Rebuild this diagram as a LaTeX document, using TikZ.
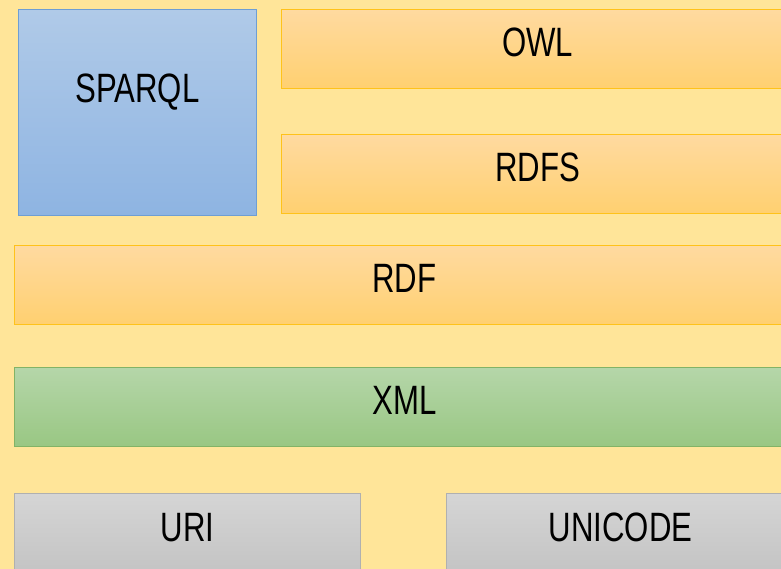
\documentclass[tikz,border=0pt]{standalone}
\usepackage{fontspec}
\setmainfont{Liberation Sans}[FakeStretch=0.76]
\definecolor{bgyellow}{HTML}{FFE599}
\definecolor{orgtop}{HTML}{FFDAA0}
\definecolor{orgbot}{HTML}{FFD070}
\definecolor{orgline}{HTML}{FFC21A}
\definecolor{blutop}{HTML}{B0CAE8}
\definecolor{blubot}{HTML}{8EB4E2}
\definecolor{bluline}{HTML}{6E9ED4}
\definecolor{grntop}{HTML}{B5D6A9}
\definecolor{grnbot}{HTML}{99C783}
\definecolor{grnline}{HTML}{82B366}
\definecolor{grytop}{HTML}{D5D5D5}
\definecolor{grybot}{HTML}{C3C3C3}
\definecolor{gryline}{HTML}{B0B0B0}
\tikzset{
  layer/.style={rectangle, anchor=north west, inner sep=0pt, line width=1pt,
    font=\fontsize{41}{41}\selectfont, text depth=14pt},
  orangelayer/.style={layer, draw=orgline, top color=orgtop, bottom color=orgbot},
  bluelayer/.style={layer, draw=bluline, top color=blutop, bottom color=blubot},
  greenlayer/.style={layer, draw=grnline, top color=grntop, bottom color=grnbot},
  graylayer/.style={layer, draw=gryline, top color=grytop, bottom color=grybot},
}
\begin{document}
\begin{tikzpicture}[x=1pt,y=1pt]
\useasboundingbox (0,0) rectangle (781,569);
\fill[bgyellow] (0,0) rectangle (781,569);
\clip (0,0) rectangle (781,569);
% query layer
\node[bluelayer, minimum width=238pt, minimum height=206pt, text depth=48pt] (sparql) at (18,560) {SPARQL};
% ontology and schema layers
\node[orangelayer, minimum width=512pt, minimum height=79pt] (owl) at (281,560) {OWL};
\node[orangelayer, minimum width=512pt, minimum height=79pt] (rdfs) at (281,435) {RDFS};
% data model
\node[orangelayer, minimum width=780pt, minimum height=79pt] (rdf) at (14,324) {RDF};
% syntax
\node[greenlayer, minimum width=780pt, minimum height=79pt] (xml) at (14,202) {XML};
% identifiers and character set
\node[graylayer, minimum width=346pt, minimum height=82pt] (uri) at (14,76) {URI};
\node[graylayer, minimum width=348pt, minimum height=82pt] (unicode) at (446,76) {UNICODE};
\end{tikzpicture}
\end{document}
